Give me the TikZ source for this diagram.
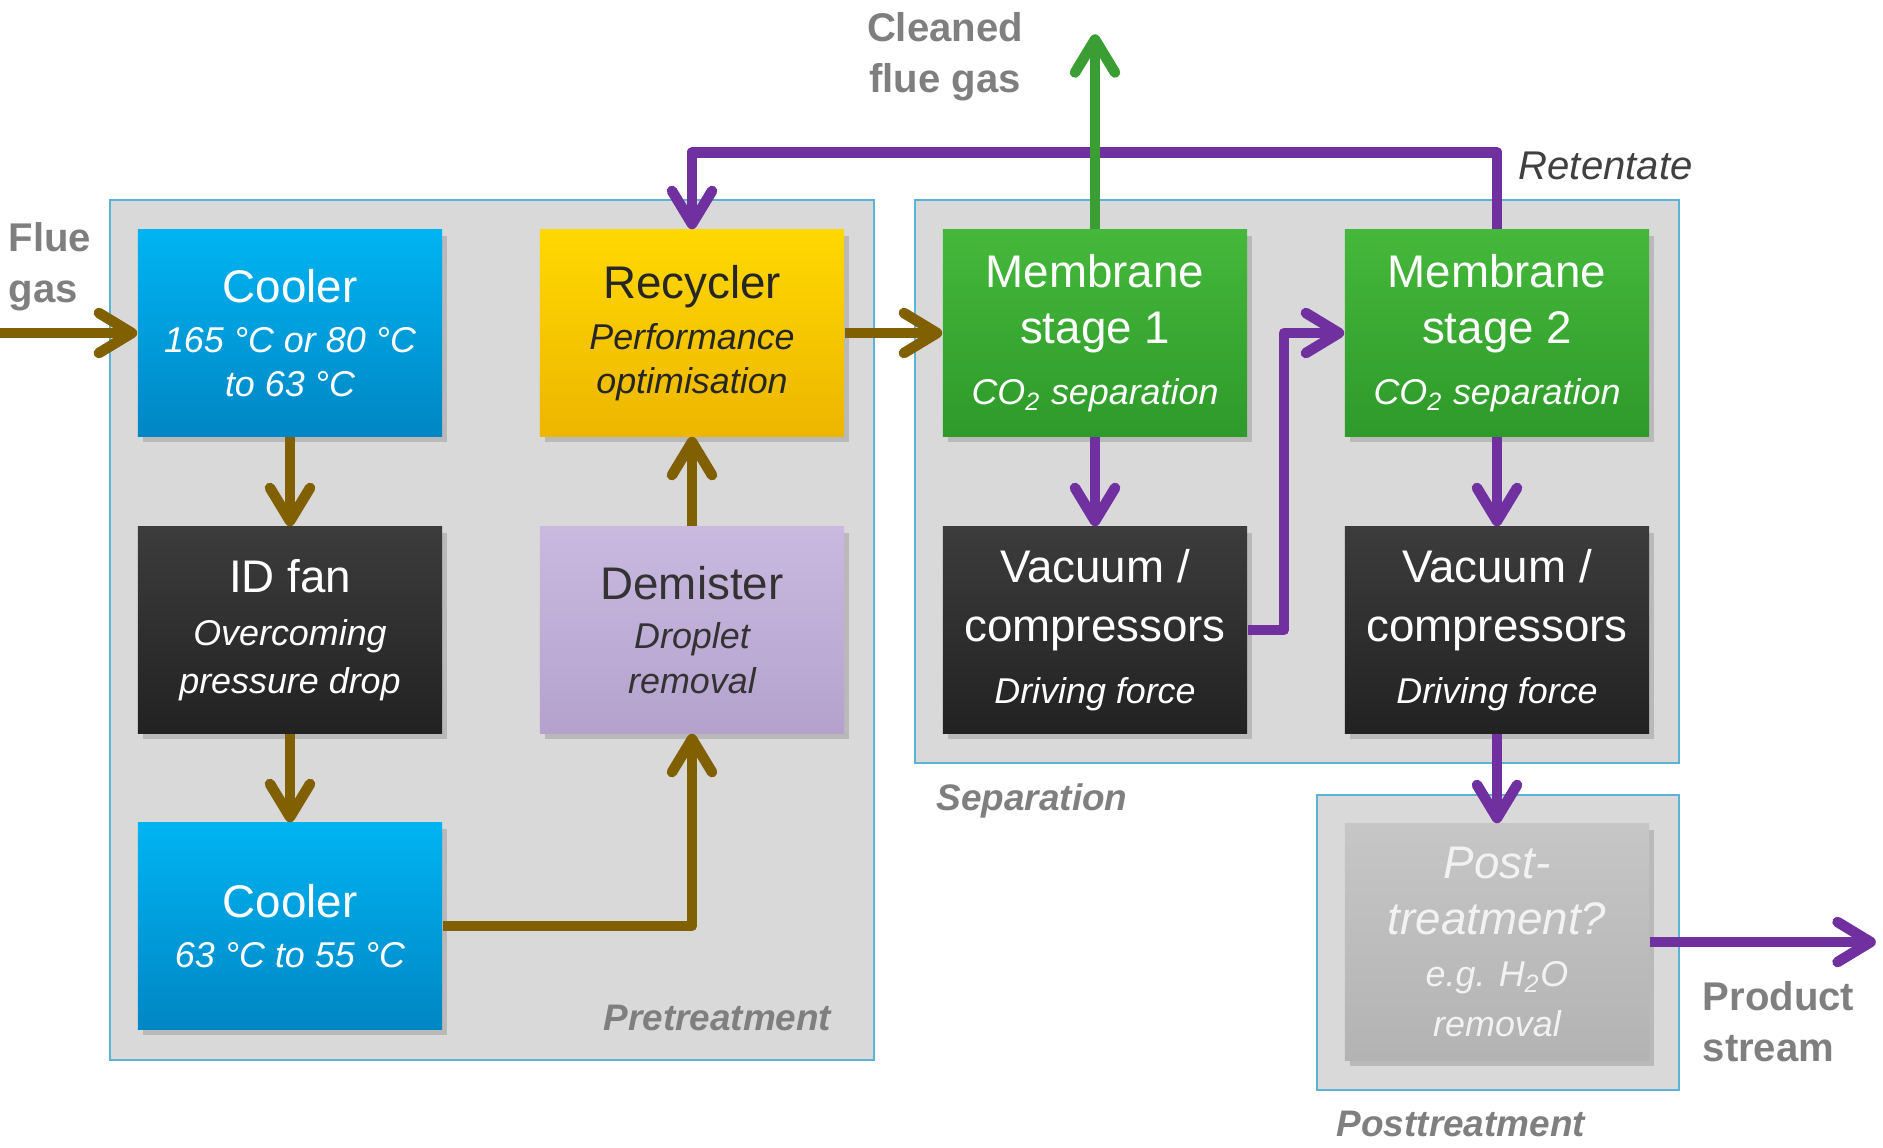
\documentclass[tikz,border=0pt]{standalone}
\usepackage{fontspec}
\setmainfont{Liberation Sans}
\usetikzlibrary{arrows.meta,shadows}
\definecolor{panelgray}{HTML}{D9D9D9}
\definecolor{panelline}{HTML}{5BB4D8}
\definecolor{coolblue}{HTML}{00B4F2}
\definecolor{coolbluedark}{HTML}{0086C4}
\definecolor{fanblack}{HTML}{3C3C3C}
\definecolor{fanblackdark}{HTML}{222222}
\definecolor{recycyellow}{HTML}{FFD800}
\definecolor{recycyellowdark}{HTML}{EDB600}
\definecolor{demistlilac}{HTML}{C9B9DF}
\definecolor{demistlilacdark}{HTML}{B4A2CD}
\definecolor{memgreen}{HTML}{45B83B}
\definecolor{memgreendark}{HTML}{2E9A2A}
\definecolor{postgray}{HTML}{C6C6C6}
\definecolor{postgraydark}{HTML}{B3B3B3}
\definecolor{pipebrown}{HTML}{806000}
\definecolor{pipepurple}{HTML}{7030A0}
\definecolor{pipegreen}{HTML}{3A9E35}
\definecolor{notegray}{HTML}{7F7F7F}
\newcommand{\boxsub}[1]{{\fontsize{10.2}{12}\selectfont\itshape #1}}

\begin{document}
\begin{tikzpicture}[x=0.01cm,y=-0.01cm]
 \tikzset{
  unitbox/.style={minimum width=3.04cm,minimum height=2.06cm,inner sep=0pt,align=center,
   font=\fontsize{13}{16}\selectfont,text=white,
   drop shadow={opacity=0.35,shadow xshift=0.05cm,shadow yshift=-0.06cm}},
  cooler/.style={unitbox,top color=coolblue,bottom color=coolbluedark},
  fan/.style={unitbox,top color=fanblack,bottom color=fanblackdark},
  recycler/.style={unitbox,top color=recycyellow,bottom color=recycyellowdark,text=black!85},
  demister/.style={unitbox,top color=demistlilac,bottom color=demistlilacdark,text=black!80},
  membrane/.style={unitbox,top color=memgreen,bottom color=memgreendark},
  post/.style={unitbox,top color=postgray,bottom color=postgraydark,text=white!95!black,
   font=\fontsize{13}{16}\selectfont\itshape},
  panel/.style={fill=panelgray,draw=panelline,line width=0.6pt},
  pipe/.style={line width=3pt,line join=round,-{Straight Barb[length=3.3mm,width=4mm,round]}},
  sidenote/.style={inner sep=0pt,text=notegray,font=\fontsize{11.4}{14.5}\selectfont\bfseries},
  section/.style={inner sep=0pt,text=notegray,font=\fontsize{10.5}{13}\selectfont\bfseries\itshape}}
 \useasboundingbox (0,0) rectangle (1883,1147);
 \draw[panel] (110,200) rectangle (874,1060);
 \draw[panel] (915,200) rectangle (1679,763);
 \draw[panel] (1317,795) rectangle (1679,1090);
 \node[cooler](cool1) at (290,333){Cooler\\[-2pt]\boxsub{165 °C or 80 °C}\\[-3.5pt]\boxsub{to 63 °C}};
 \node[fan](fan) at (290,630){ID fan\\[-0.9pt]\boxsub{Overcoming}\\[-2.3pt]\boxsub{pressure drop}};
 \node[cooler](cool2) at (290,926){Cooler\\[-1.8pt]\boxsub{63 °C to 55 °C}};
 \node[recycler](recyc) at (692,333){Recycler\\[-1.5pt]\boxsub{Performance}\\[-3.5pt]\boxsub{optimisation}};
 \node[demister](demist) at (692,630){Demister\\[-1.9pt]\boxsub{Droplet}\\[-3.3pt]\boxsub{removal}};
 \node[membrane](mem1) at (1095,333){Membrane\\stage 1\\[1.4pt]\boxsub{CO\textsubscript{2} separation}};
 \node[membrane](mem2) at (1497,333){Membrane\\stage 2\\[1.4pt]\boxsub{CO\textsubscript{2} separation}};
 \node[fan](vac1) at (1095,630){Vacuum /\\[0.8pt]compressors\\[1.4pt]\boxsub{Driving force}};
 \node[fan](vac2) at (1497,630){Vacuum /\\[0.8pt]compressors\\[1.4pt]\boxsub{Driving force}};
 \node[post,minimum height=2.36cm](post) at (1497,942){Post-\\treatment?\\[-1.2pt]\boxsub{e.g. H\textsubscript{2}O}\\[-1.8pt]\boxsub{removal}};
 \node[sidenote,anchor=west,align=left](fluelbl) at (8,267){Flue\\gas};
 \node[sidenote,align=center](cleanlbl) at (945,57){Cleaned\\flue gas};
 \node[sidenote,anchor=west,align=left](prodlbl) at (1702,1022){Product\\stream};
 \node[inner sep=0pt,anchor=west,text=black!75,font=\fontsize{11.4}{14}\selectfont\itshape](retlbl) at (1518,166){Retentate};
 \node[section,anchor=east](pretlbl) at (832,1018){Pretreatment};
 \node[section,anchor=west](seplbl) at (936,801){Separation};
 \node[section,anchor=west](postlbl) at (1336,1124){Posttreatment};
 \coordinate (flueIn) at (0,333);
 \draw[pipe,pipebrown](flueIn)--(cool1.west);
 \draw[pipe,pipebrown](cool1.south)--(fan.north);
 \draw[pipe,pipebrown](fan.south)--(cool2.north);
 \draw[pipe,pipebrown](cool2.east)-|(demist.south);
 \draw[pipe,pipebrown](demist.north)--(recyc.south);
 \draw[pipe,pipebrown](recyc.east)--(mem1.west);
 \draw[pipe,pipepurple](mem2.north)--++(0,-77)-|(recyc.north);
 \draw[pipe,pipegreen](mem1.north)--++(0,-195);
 \draw[pipe,pipepurple](mem1.south)--(vac1.north);
 \draw[pipe,pipepurple](mem2.south)--(vac2.north);
 \draw[pipe,pipepurple](vac1.east)--++(36,0)|-(mem2.west);
 \draw[pipe,pipepurple](vac2.south)--(post.north);
 \draw[pipe,pipepurple](post.east)--++(226,0);
\end{tikzpicture}
\end{document}
